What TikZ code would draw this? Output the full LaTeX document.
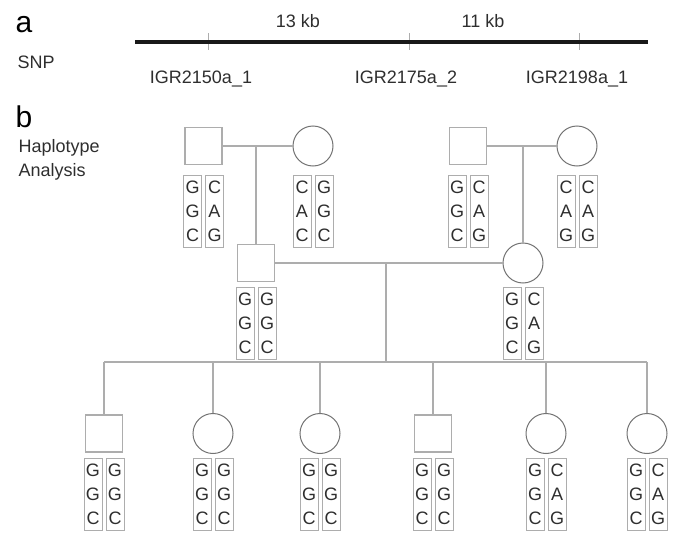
\documentclass[tikz,border=0pt]{standalone}
\usepackage{fontspec}
\setmainfont{Liberation Sans}
\usetikzlibrary{positioning, calc}

\definecolor{linegray}{gray}{0.68}
\definecolor{ringgray}{gray}{0.45}
\definecolor{lettergray}{gray}{0.18}

\begin{document}
\begin{tikzpicture}[x=1pt, y=-1pt,
    male/.style={draw=linegray, line width=1.2pt, minimum size=37pt, inner sep=0pt},
    female/.style={circle, draw=ringgray, line width=1pt, minimum size=40pt, inner sep=0pt},
    allele/.style={draw=linegray, line width=0.9pt, minimum width=18pt, minimum height=72pt,
                   inner sep=0pt, align=center, text=lettergray,
                   font=\fontsize{18}{24}\selectfont},
    link/.style={draw=linegray, line width=1.2pt},
    tick/.style={draw=linegray, line width=0.8pt},
    lbl/.style={font=\fontsize{18}{22}\selectfont, text=lettergray},
    panel/.style={font=\fontsize{30}{30}\selectfont, anchor=base west}
  ]
  \useasboundingbox (0,0) rectangle (673,533);

  % Panel a: SNP map
  \node[panel] (pa) at (12,32) {a};
  \node[lbl, anchor=base west] (snp) at (14,68) {SNP};
  \foreach \t/\x/\lx/\s in {t1/208/201/IGR2150a\_1, t2/409/406/IGR2175a\_2, t3/579/577/IGR2198a\_1} {
    \coordinate (\t) at (\x,33);
    \draw[tick] (\t) -- ++(0,17);
    \node[lbl, anchor=base] (\t-lab) at (\lx,83) {\s};
  }
  \coordinate (mapl) at (135,41.5);
  \coordinate (mapr) at (648,41.5);
  \draw[line width=4pt, black!90] (mapl) -- (mapr);
  \node[lbl, anchor=base] (d12) at (298,27) {13 kb};
  \node[lbl, anchor=base] (d23) at (483,27) {11 kb};

  % Panel b: pedigree
  \node[panel] (pb) at (12,127) {b};
  \node[lbl, anchor=base west] (hap) at (15,152) {Haplotype};
  \node[lbl, anchor=base west] (ana) at (15,176) {Analysis};

  % Grandparents
  \node[male] (f1) at (203.5,146) {};
  \node[female] (m1) at (313,146) {};
  \node[male] (f2) at (468,146) {};
  \node[female] (m2) at (577,146) {};
  % Parents
  \node[male] (s1) at (256,263) {};
  \node[female] (d1) at (523,263) {};
  % Children
  \foreach \n/\x/\sh in {k1/104/male, k2/213/female, k3/320/female,
                         k4/433/male, k5/546/female, k6/647/female} {
    \node[\sh] (\n) at (\x,433.5) {};
  }

  % Lines of descent
  \draw[link] (f1) -- (m1);
  \draw[link] (f2) -- (m2);
  \draw[link] (s1 |- f1) -- (s1);
  \draw[link] (d1 |- f2) -- (d1);
  \draw[link] (s1) -- (d1);
  \coordinate (sib) at (386,362);
  \draw[link] (sib |- s1) -- (sib);
  \draw[link] (k1 |- sib) -- (k6 |- sib);
  \foreach \n in {k1,k2,k3,k4,k5,k6} {
    \draw[link] (\n |- sib) -- (\n);
  }

  % Haplotypes
  \foreach \p/\t/\l/\r in {f1/175/{G\\G\\C}/{C\\A\\G}, m1/175/{C\\A\\C}/{G\\G\\C},
                           f2/175/{G\\G\\C}/{C\\A\\G}, m2/175/{C\\A\\G}/{C\\A\\G},
                           s1/287/{G\\G\\C}/{G\\G\\C}, d1/287/{G\\G\\C}/{C\\A\\G},
                           k1/458/{G\\G\\C}/{G\\G\\C}, k2/458/{G\\G\\C}/{G\\G\\C},
                           k3/458/{G\\G\\C}/{G\\G\\C}, k4/458/{G\\G\\C}/{G\\G\\C},
                           k5/458/{G\\G\\C}/{C\\A\\G}, k6/458/{G\\G\\C}/{C\\A\\G}} {
    \node[allele, anchor=north, xshift=-11pt] (\p-l) at (\p |- 0,\t) {\l};
    \node[allele, anchor=north, xshift=11pt] (\p-r) at (\p |- 0,\t) {\r};
  }
\end{tikzpicture}
\end{document}
